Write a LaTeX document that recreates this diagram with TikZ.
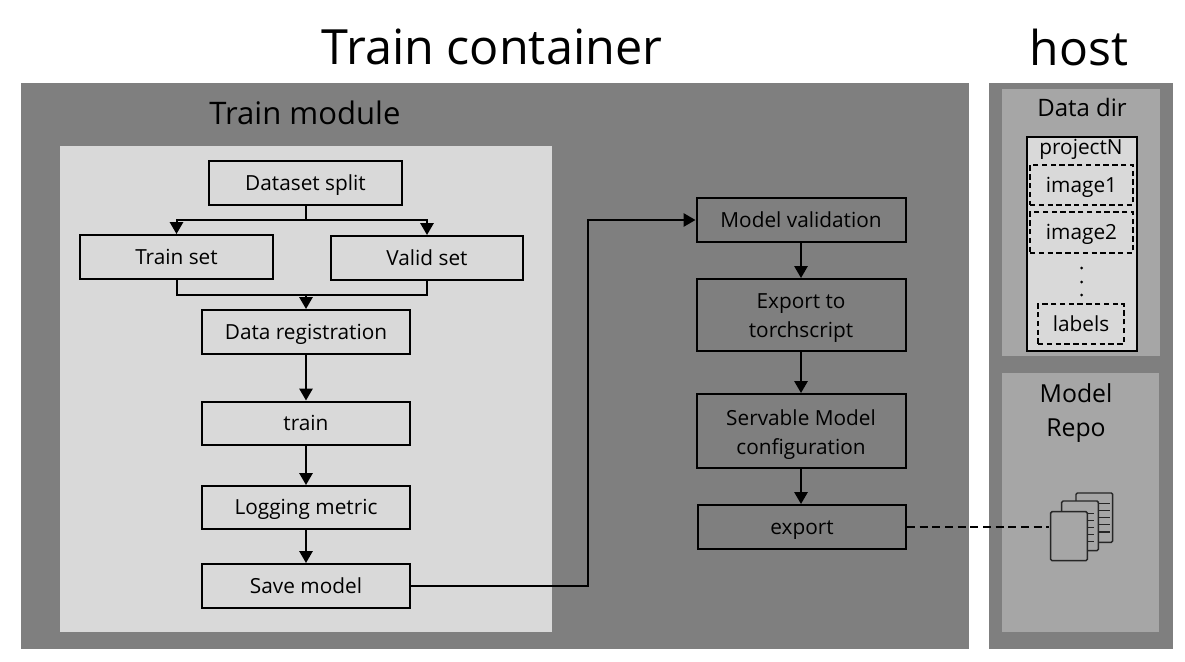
\documentclass[tikz,border=0pt]{standalone}
\usepackage{fontspec}
\setmainfont{Open Sans}
\usetikzlibrary{arrows.meta}
\newcommand{\vstrutA}{\rule[-.3em]{0pt}{1.28em}}
\newcommand{\vstrutB}{\rule[-.3em]{0pt}{0pt}}
\tikzset{
  x=0.75pt,y=-0.75pt,
  box/.style={draw=black,line width=1.5pt,fill=#1,inner sep=0pt,align=center,font=\fontsize{15.6}{21.75}\selectfont,text=black,execute at begin node=\vstrutA,execute at end node=\vstrutB},
  box/.default=none,
  dbox/.style={draw=black,line width=1.2pt,dash pattern=on 4pt off 2.6pt,fill=none,inner sep=0pt,font=\fontsize{15.6}{20}\selectfont,text=black,execute at begin node=\vstrutA},
  arr/.style={draw=black,line width=1.5pt,-{Triangle[length=9pt,width=10pt]}},
  lin/.style={draw=black,line width=1.5pt},
  title/.style={inner sep=0pt,anchor=center,text=black},
  page/.style={draw=black!85,line width=1.1pt,rounded corners=1pt,fill=repo},
  tick/.style={draw=black!85,line width=1.1pt}
}
\definecolor{dark}{HTML}{7F7F7F}
\definecolor{repo}{HTML}{A6A6A6}
\definecolor{light}{HTML}{D9D9D9}
\newcommand{\rbox}[6]{\node[#1,minimum width=#4*0.75pt,minimum height=#5*0.75pt] (#2) at (#3) {#6};}
\begin{document}
\begin{tikzpicture}
\useasboundingbox (0,0) rectangle (1185,661);
\fill[white] (0,0) rectangle (1185,661);
% panels
\fill[dark] (21,83) rectangle (969,649);
\fill[dark] (989,83) rectangle (1173,649);
\fill[repo] (1002,89) rectangle (1160,356);
\fill[repo] (1002,373) rectangle (1159,632);
\fill[light] (60,146) rectangle (552,632);
% titles
\node[title,font=\fontsize{36.4}{40}\selectfont] (tc) at (492,47) {Train container};
\node[title,font=\fontsize{36}{40}\selectfont] (hs) at (1079,47) {host};
\node[title,font=\fontsize{23.3}{28}\selectfont] (tm) at (305,113) {Train module};
\node[title,font=\fontsize{18}{22}\selectfont] (dd) at (1082,107) {Data dir};
\node[title,font=\fontsize{18.6}{25.5}\selectfont,align=center] (mr) at (1076,413) {Model\\[0pt]Repo};
% left column
\rbox{box}{ds}{305.5,183}{193}{44}{Dataset split}
\rbox{box}{ts}{176.5,257}{193}{44}{Train set}
\rbox{box}{vs}{427,258}{192}{44}{Valid set}
\rbox{box}{dr}{306,332}{208}{44}{Data registration}
\rbox{box}{tr}{306,423}{208}{43}{train}
\rbox{box}{lm}{306,507.5}{208}{43}{Logging metric}
\rbox{box}{sm}{306,586}{208}{44}{Save model}
% right column
\rbox{box}{mv}{801,220}{209}{44}{Model validation}
\rbox{box}{et}{801,315}{209}{72}{\rule{0pt}{1.07em}Export to\\torchscript}
\rbox{box}{sc}{801,431}{209}{74}{\rule{0pt}{1.13em}Servable Model\\configuration}
\rbox{box}{ex}{802,527}{208}{44}{export}
% data dir
\node[draw=black,line width=1.5pt,fill=light,inner sep=0pt,minimum width=110*0.75pt,minimum height=214*0.75pt] (pj) at (1082,244) {};
\node[title,font=\fontsize{15.6}{20}\selectfont,text=black] (pn) at (1081,149) {projectN};
\rbox{dbox}{i1}{1081.5,185}{103}{40}{image1}
\rbox{dbox}{i2}{1081.5,232.5}{103}{41}{image2}
\rbox{dbox}{lb}{1081,324}{86}{40}{labels}
\foreach \yy in {268,282,295} \fill[black] (1081.5,\yy) circle[radius=1.5];
% icon
\draw[page] (1076,493) rectangle (1112.7,542.3);
\foreach \yy in {503.3,510.3,517.3,524.7,532} \draw[tick] (1098.3,\yy) -- (1109.5,\yy);
\draw[page] (1061.7,501) rectangle (1098.3,550.7);
\foreach \yy in {513.3,520.3,527.3,534.7,541.7} \draw[tick] (1087.3,\yy) -- (1093.7,\yy);
\node[page,minimum width=36.6*0.75pt,minimum height=49*0.75pt,inner sep=0pt] (ic) at (1069,536.2) {};
\coordinate (icin) at (1049,527);
% connectors
\coordinate (sp) at (306,220);
\coordinate (mg) at (306,295);
\coordinate (el) at (588,220);
\draw[lin] (sp |- ds.south) -- (sp);
\draw[arr] (sp) -| (ts.north);
\draw[arr] (sp) -| (vs.north);
\draw[lin] (ts.south) |- (mg);
\draw[lin] (vs.south) |- (mg);
\draw[arr] (mg) -- (dr.north);
\draw[arr] (dr.south) -- (tr.north);
\draw[arr] (tr.south) -- (lm.north);
\draw[arr] (lm.south) -- (sm.north);
\draw[arr] (sm.east) -| (el) -- (mv.west);
\draw[arr] (mv.south) -- (et.north);
\draw[arr] (et.south) -- (sc.north);
\draw[arr] (sc.south) -- (sc.south |- ex.north);
\draw[draw=black,line width=1.5pt,dash pattern=on 6pt off 3.5pt] (ex.east) -- (icin);
\end{tikzpicture}
\end{document}
